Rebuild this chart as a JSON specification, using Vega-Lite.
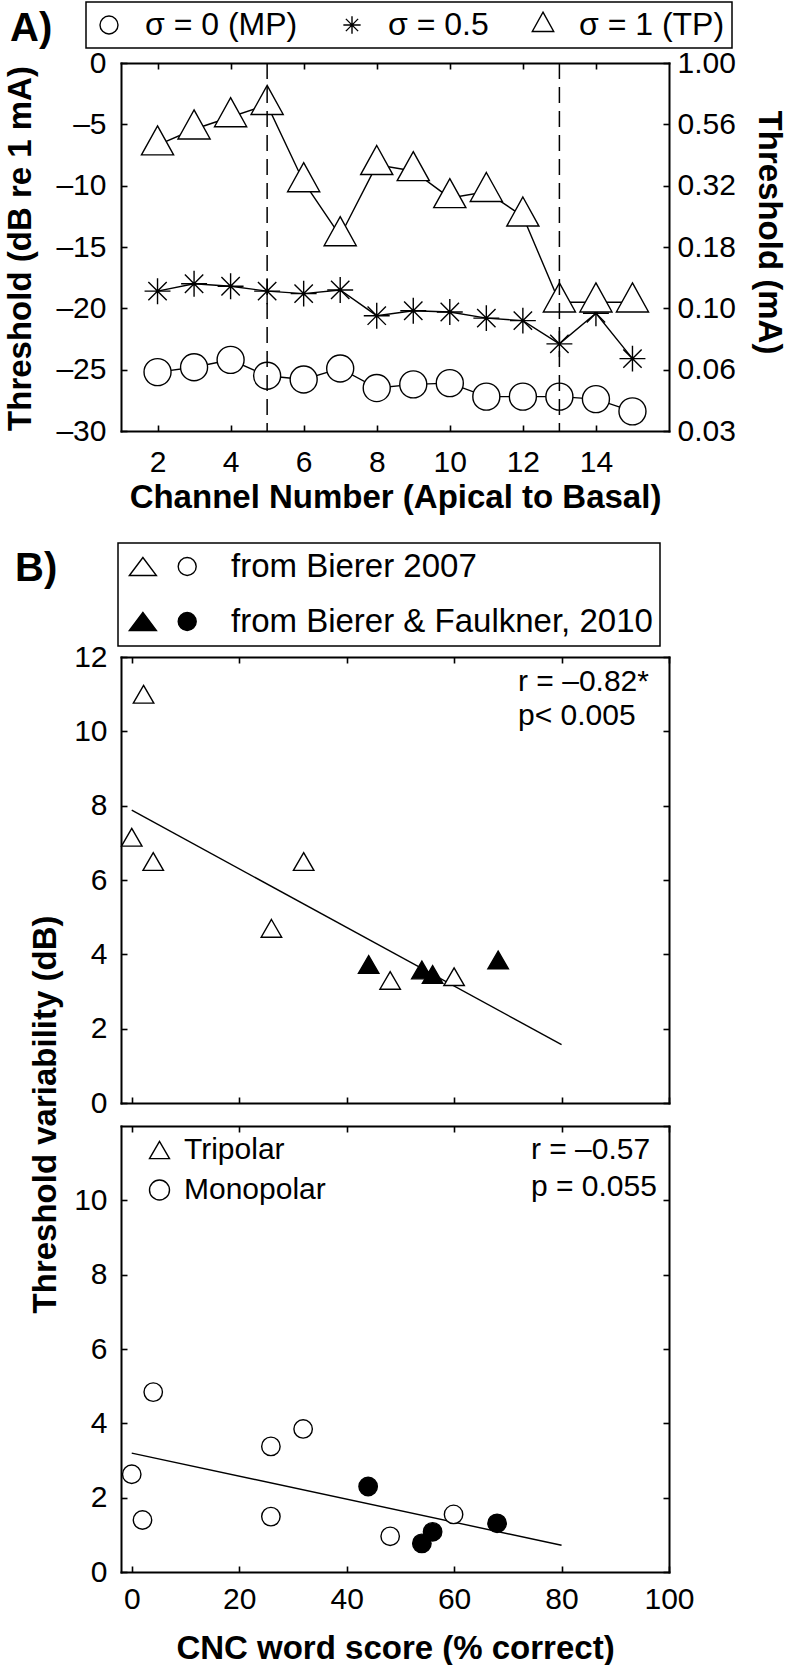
{
  "$schema": "https://vega.github.io/schema/vega-lite/v6.json",
  "autosize": {"type": "none"},
  "padding": {"left": 121, "top": 63, "right": 668, "bottom": 1602},
  "background": "white",
  "datasets": {
    "thresholds": [
      {"channel": 2, "sigma": "σ = 0 (MP)", "threshold": -25.2},
      {"channel": 3, "sigma": "σ = 0 (MP)", "threshold": -24.8},
      {"channel": 4, "sigma": "σ = 0 (MP)", "threshold": -24.2},
      {"channel": 5, "sigma": "σ = 0 (MP)", "threshold": -25.5},
      {"channel": 6, "sigma": "σ = 0 (MP)", "threshold": -25.8},
      {"channel": 7, "sigma": "σ = 0 (MP)", "threshold": -24.9},
      {"channel": 8, "sigma": "σ = 0 (MP)", "threshold": -26.5},
      {"channel": 9, "sigma": "σ = 0 (MP)", "threshold": -26.2},
      {"channel": 10, "sigma": "σ = 0 (MP)", "threshold": -26.1},
      {"channel": 11, "sigma": "σ = 0 (MP)", "threshold": -27.2},
      {"channel": 12, "sigma": "σ = 0 (MP)", "threshold": -27.2},
      {"channel": 13, "sigma": "σ = 0 (MP)", "threshold": -27.2},
      {"channel": 14, "sigma": "σ = 0 (MP)", "threshold": -27.4},
      {"channel": 15, "sigma": "σ = 0 (MP)", "threshold": -28.4},
      {"channel": 2, "sigma": "σ = 0.5", "threshold": -18.6},
      {"channel": 3, "sigma": "σ = 0.5", "threshold": -18.0},
      {"channel": 4, "sigma": "σ = 0.5", "threshold": -18.2},
      {"channel": 5, "sigma": "σ = 0.5", "threshold": -18.6},
      {"channel": 6, "sigma": "σ = 0.5", "threshold": -18.8},
      {"channel": 7, "sigma": "σ = 0.5", "threshold": -18.5},
      {"channel": 8, "sigma": "σ = 0.5", "threshold": -20.6},
      {"channel": 9, "sigma": "σ = 0.5", "threshold": -20.2},
      {"channel": 10, "sigma": "σ = 0.5", "threshold": -20.3},
      {"channel": 11, "sigma": "σ = 0.5", "threshold": -20.8},
      {"channel": 12, "sigma": "σ = 0.5", "threshold": -21.0},
      {"channel": 13, "sigma": "σ = 0.5", "threshold": -22.9},
      {"channel": 14, "sigma": "σ = 0.5", "threshold": -20.4},
      {"channel": 15, "sigma": "σ = 0.5", "threshold": -24.1},
      {"channel": 2, "sigma": "σ = 1 (TP)", "threshold": -6.7},
      {"channel": 3, "sigma": "σ = 1 (TP)", "threshold": -5.4},
      {"channel": 4, "sigma": "σ = 1 (TP)", "threshold": -4.4},
      {"channel": 5, "sigma": "σ = 1 (TP)", "threshold": -3.4},
      {"channel": 6, "sigma": "σ = 1 (TP)", "threshold": -9.7},
      {"channel": 7, "sigma": "σ = 1 (TP)", "threshold": -14.1},
      {"channel": 8, "sigma": "σ = 1 (TP)", "threshold": -8.3},
      {"channel": 9, "sigma": "σ = 1 (TP)", "threshold": -8.8},
      {"channel": 10, "sigma": "σ = 1 (TP)", "threshold": -11.0},
      {"channel": 11, "sigma": "σ = 1 (TP)", "threshold": -10.5},
      {"channel": 12, "sigma": "σ = 1 (TP)", "threshold": -12.5},
      {"channel": 13, "sigma": "σ = 1 (TP)", "threshold": -19.5},
      {"channel": 14, "sigma": "σ = 1 (TP)", "threshold": -19.5},
      {"channel": 15, "sigma": "σ = 1 (TP)", "threshold": -19.5}
    ],
    "tripolar": [
      {"score": 0.0, "variability": 7.07, "source": "from Bierer 2007", "electrode": "Tripolar"},
      {"score": 2.2, "variability": 10.92, "source": "from Bierer 2007", "electrode": "Tripolar"},
      {"score": 4.0, "variability": 6.42, "source": "from Bierer 2007", "electrode": "Tripolar"},
      {"score": 26.0, "variability": 4.62, "source": "from Bierer 2007", "electrode": "Tripolar"},
      {"score": 32.0, "variability": 6.42, "source": "from Bierer 2007", "electrode": "Tripolar"},
      {"score": 48.1, "variability": 3.22, "source": "from Bierer 2007", "electrode": "Tripolar"},
      {"score": 60.0, "variability": 3.32, "source": "from Bierer 2007", "electrode": "Tripolar"},
      {"score": 44.1, "variability": 3.65, "source": "from Bierer & Faulkner, 2010", "electrode": "Tripolar"},
      {"score": 54.0, "variability": 3.50, "source": "from Bierer & Faulkner, 2010", "electrode": "Tripolar"},
      {"score": 56.0, "variability": 3.38, "source": "from Bierer & Faulkner, 2010", "electrode": "Tripolar"},
      {"score": 68.2, "variability": 3.77, "source": "from Bierer & Faulkner, 2010", "electrode": "Tripolar"}
    ],
    "monopolar": [
      {"score": 0.0, "variability": 2.63, "source": "from Bierer 2007", "electrode": "Monopolar"},
      {"score": 2.0, "variability": 1.40, "source": "from Bierer 2007", "electrode": "Monopolar"},
      {"score": 4.0, "variability": 4.84, "source": "from Bierer 2007", "electrode": "Monopolar"},
      {"score": 25.9, "variability": 3.38, "source": "from Bierer 2007", "electrode": "Monopolar"},
      {"score": 25.9, "variability": 1.49, "source": "from Bierer 2007", "electrode": "Monopolar"},
      {"score": 31.9, "variability": 3.85, "source": "from Bierer 2007", "electrode": "Monopolar"},
      {"score": 48.1, "variability": 0.96, "source": "from Bierer 2007", "electrode": "Monopolar"},
      {"score": 59.9, "variability": 1.55, "source": "from Bierer 2007", "electrode": "Monopolar"},
      {"score": 44.0, "variability": 2.30, "source": "from Bierer & Faulkner, 2010", "electrode": "Monopolar"},
      {"score": 54.0, "variability": 0.77, "source": "from Bierer & Faulkner, 2010", "electrode": "Monopolar"},
      {"score": 56.0, "variability": 1.08, "source": "from Bierer & Faulkner, 2010", "electrode": "Monopolar"},
      {"score": 68.0, "variability": 1.31, "source": "from Bierer & Faulkner, 2010", "electrode": "Monopolar"}
    ],
    "fit_tripolar": [
      {"score": 0, "variability": 7.88},
      {"score": 80, "variability": 1.57}
    ],
    "fit_monopolar": [
      {"score": 0, "variability": 3.2},
      {"score": 80, "variability": 0.72}
    ]
  },
  "vconcat": [
    {
      "width": 548,
      "height": 368,
      "title": {"text": "A)", "orient": "top", "anchor": "start", "frame": "group", "offset": 0, "dx": -111, "dy": 48, "baseline": "top", "fontSize": 40, "fontWeight": "bold", "font": "Liberation Sans", "color": "black"},
      "layer": [
        {
          "data": {"name": "thresholds"},
          "mark": {"type": "line", "stroke": "black", "strokeWidth": 1.4},
          "encoding": {
            "x": {"field": "channel", "type": "quantitative", "scale": {"domain": [1, 16], "nice": false, "zero": false},
                  "axis": {"orient": "bottom", "values": [2, 4, 6, 8, 10, 12, 14], "labelPadding": 37, "labelBaseline": "middle", "title": "Channel Number (Apical to Basal)", "titleY": 66, "titleBaseline": "middle"}},
            "y": {"field": "threshold", "type": "quantitative", "scale": {"domain": [-30, 0], "nice": false, "zero": false},
                  "axis": {"orient": "left", "values": [-30, -25, -20, -15, -10, -5, 0], "labelPadding": 21, "labelExpr": "datum.value < 0 ? '–' + abs(datum.value) : '' + datum.value", "title": "Threshold (dB re 1 mA)", "titleAngle": 270, "titleX": -101, "titleY": 185, "titleAlign": "center", "titleBaseline": "middle"}},
            "detail": {"field": "sigma", "type": "nominal"}
          }
        },
        {
          "data": {"name": "thresholds"},
          "mark": {"type": "point", "filled": true, "fill": "white", "strokeWidth": 1.4, "opacity": 1, "size": 730},
          "encoding": {
            "x": {"field": "channel", "type": "quantitative",
                  "axis": {"orient": "top", "values": [2, 4, 6, 8, 10, 12, 14], "labels": false, "title": null}},
            "y": {"field": "threshold", "type": "quantitative",
                  "axis": {"orient": "right", "values": [-30, -25, -20, -15, -10, -5, 0], "labelPadding": 14, "labelExpr": "format(pow(10, datum.value / 20), '.2f')", "title": "Threshold (mA)", "titleAngle": 90, "titleX": 99, "titleY": 169, "titleAlign": "center", "titleBaseline": "middle"}},
            "stroke": {"field": "sigma", "type": "nominal",
                       "scale": {"domain": ["σ = 0 (MP)", "σ = 0.5", "σ = 1 (TP)"], "range": ["black", "black", "black"]},
                       "legend": {"orient": "none", "legendX": -35, "legendY": -61, "direction": "horizontal", "columns": 3, "title": null, "padding": 7, "strokeColor": "black", "symbolSize": 324, "symbolStrokeWidth": 1.4, "symbolFillColor": "white", "symbolOpacity": 1, "labelFontSize": 32, "labelOffset": 20, "columnPadding": 38, "labelLimit": 400}},
            "shape": {"field": "sigma", "type": "nominal",
                      "scale": {"domain": ["σ = 0 (MP)", "σ = 0.5", "σ = 1 (TP)"], "range": ["circle", "M0,-0.96L0,0.96M-0.96,0L0.96,0M-0.68,-0.68L0.68,0.68M-0.68,0.68L0.68,-0.68", "M0,-1.43L1.19,0.72L-1.19,0.72Z"]},
                      "legend": {"orient": "none", "legendX": -35, "legendY": -61, "direction": "horizontal", "columns": 3, "title": null, "padding": 7, "strokeColor": "black", "symbolSize": 324, "symbolStrokeWidth": 1.4, "symbolFillColor": "white", "symbolOpacity": 1, "labelFontSize": 32, "labelOffset": 20, "columnPadding": 38, "labelLimit": 400}}
          }
        },
        {
          "data": {"values": [{"channel": 5}, {"channel": 13}]},
          "mark": {"type": "rule", "stroke": "black", "strokeWidth": 1.5, "strokeDash": [16, 8]},
          "encoding": {"x": {"field": "channel", "type": "quantitative", "axis": null}}
        }
      ],
      "resolve": {"axis": {"x": "independent", "y": "independent"}}
    },
    {
      "width": 548,
      "height": 180,
      "data": {"values": []},
      "mark": "point"
    },
    {
      "width": 548,
      "height": 446,
      "title": {"text": "B)", "orient": "top", "anchor": "start", "frame": "group", "offset": 0, "dx": -106, "dy": 47, "baseline": "top", "fontSize": 40, "fontWeight": "bold", "font": "Liberation Sans", "color": "black"},
      "layer": [
        {
          "data": {"name": "fit_tripolar"},
          "mark": {"type": "line", "stroke": "black", "strokeWidth": 1.4},
          "encoding": {
            "x": {"field": "score", "type": "quantitative", "scale": {"domain": [-2, 100], "nice": false, "zero": false},
                  "axis": {"orient": "bottom", "values": [0, 20, 40, 60, 80, 100], "labels": false, "title": null}},
            "y": {"field": "variability", "type": "quantitative", "scale": {"domain": [0, 12], "nice": false},
                  "axis": {"orient": "left", "values": [0, 2, 4, 6, 8, 10, 12], "labelPadding": 20, "title": null}}
          }
        },
        {
          "data": {"name": "tripolar"},
          "mark": {"type": "point", "filled": true, "shape": "M0,-1.15L1.0,0.58L-1.0,0.58Z", "size": 420, "stroke": "black", "strokeWidth": 1.4, "opacity": 1},
          "encoding": {
            "x": {"field": "score", "type": "quantitative",
                  "axis": {"orient": "top", "values": [0, 20, 40, 60, 80, 100], "labels": false, "title": null}},
            "y": {"field": "variability", "type": "quantitative",
                  "axis": {"orient": "right", "values": [0, 2, 4, 6, 8, 10, 12], "labels": false, "title": null}},
            "fill": {"field": "source", "type": "nominal",
                     "scale": {"domain": ["from Bierer 2007", "from Bierer & Faulkner, 2010"], "range": ["white", "black"]},
                     "legend": {"orient": "none", "legendX": -3, "legendY": -114, "direction": "vertical", "title": null, "padding": 7, "strokeColor": "black", "symbolType": "M-1.21,0.9L0.14,-0.9L1.49,0.9Z M3.67,0A0.9,0.9 0 1 0 5.47,0A0.9,0.9 0 1 0 3.67,0Z", "symbolSize": 400, "symbolStrokeWidth": 1.4, "symbolStrokeColor": "black", "symbolOpacity": 1, "labelFontSize": 33, "labelOffset": 73, "rowPadding": 21, "labelLimit": 800}}
          }
        },
        {
          "data": {"values": [{"stat": "r = –0.82*"}]},
          "mark": {"type": "text", "align": "left", "baseline": "middle", "fontSize": 30, "font": "Liberation Sans", "color": "black"},
          "encoding": {
            "x": {"datum": 71.9, "type": "quantitative", "axis": null},
            "y": {"datum": 11.34, "type": "quantitative", "axis": null},
            "text": {"field": "stat"}
          }
        },
        {
          "data": {"values": [{"stat": "p< 0.005"}]},
          "mark": {"type": "text", "align": "left", "baseline": "middle", "fontSize": 30, "font": "Liberation Sans", "color": "black"},
          "encoding": {
            "x": {"datum": 71.9, "type": "quantitative", "axis": null},
            "y": {"datum": 10.4, "type": "quantitative", "axis": null},
            "text": {"field": "stat"}
          }
        }
      ],
      "resolve": {"axis": {"x": "independent", "y": "independent"}}
    },
    {
      "width": 548,
      "height": 446,
      "layer": [
        {
          "data": {"name": "fit_monopolar"},
          "mark": {"type": "line", "stroke": "black", "strokeWidth": 1.4},
          "encoding": {
            "x": {"field": "score", "type": "quantitative", "scale": {"domain": [-2, 100], "nice": false, "zero": false},
                  "axis": {"orient": "bottom", "values": [0, 20, 40, 60, 80, 100], "labelPadding": 33, "labelBaseline": "middle", "title": "CNC word score (% correct)", "titleY": 76, "titleBaseline": "middle"}},
            "y": {"field": "variability", "type": "quantitative", "scale": {"domain": [0, 12], "nice": false},
                  "axis": {"orient": "left", "values": [0, 2, 4, 6, 8, 10], "labelPadding": 20, "title": "Threshold variability (dB)", "titleAngle": 270, "titleX": -75.5, "titleY": -12, "titleAlign": "center", "titleBaseline": "middle"}}
          }
        },
        {
          "data": {"name": "monopolar"},
          "mark": {"type": "point", "filled": true, "size": 340, "stroke": "black", "strokeWidth": 1.4, "opacity": 1},
          "encoding": {
            "x": {"field": "score", "type": "quantitative",
                  "axis": {"orient": "top", "values": [0, 20, 40, 60, 80, 100], "labels": false, "title": null}},
            "y": {"field": "variability", "type": "quantitative",
                  "axis": {"orient": "right", "values": [0, 2, 4, 6, 8, 10, 12], "labels": false, "title": null}},
            "fill": {"field": "source", "type": "nominal",
                     "scale": {"domain": ["from Bierer 2007", "from Bierer & Faulkner, 2010"], "range": ["white", "black"]}, "legend": null},
            "shape": {"field": "electrode", "type": "nominal",
                      "scale": {"domain": ["Tripolar", "Monopolar"], "range": ["triangle-up", "circle"]},
                      "legend": {"orient": "none", "legendX": 23.5, "legendY": 9, "direction": "vertical", "title": null, "padding": 0, "symbolSize": 400, "symbolStrokeWidth": 1.4, "symbolStrokeColor": "black", "symbolFillColor": "white", "symbolOpacity": 1, "labelFontSize": 30, "labelOffset": 9.5, "rowPadding": 10, "labelLimit": 400}}
          }
        },
        {
          "data": {"values": [{"stat": "r = –0.57"}]},
          "mark": {"type": "text", "align": "left", "baseline": "middle", "fontSize": 30, "font": "Liberation Sans", "color": "black"},
          "encoding": {
            "x": {"datum": 74.3, "type": "quantitative", "axis": null},
            "y": {"datum": 11.35, "type": "quantitative", "axis": null},
            "text": {"field": "stat"}
          }
        },
        {
          "data": {"values": [{"stat": "p = 0.055"}]},
          "mark": {"type": "text", "align": "left", "baseline": "middle", "fontSize": 30, "font": "Liberation Sans", "color": "black"},
          "encoding": {
            "x": {"datum": 74.3, "type": "quantitative", "axis": null},
            "y": {"datum": 10.36, "type": "quantitative", "axis": null},
            "text": {"field": "stat"}
          }
        }
      ],
      "resolve": {"axis": {"x": "independent", "y": "independent"}}
    }
  ],
  "spacing": 23,
  "bounds": "flush",
  "resolve": {
    "scale": {"x": "independent", "y": "independent", "shape": "independent", "fill": "independent", "stroke": "independent"},
    "legend": {"shape": "independent", "fill": "independent", "stroke": "independent"}
  },
  "config": {
    "view": {"stroke": null},
    "font": "Liberation Sans",
    "axis": {"domainColor": "black", "domainWidth": 2, "domainCap": "square", "tickColor": "black", "tickWidth": 1.6, "tickSize": -6, "labelFont": "Liberation Sans", "labelFontSize": 30, "labelColor": "black", "labelFlush": false, "labelOverlap": false, "titleFont": "Liberation Sans", "titleFontSize": 33, "titleFontWeight": "bold", "titleColor": "black", "grid": false},
    "legend": {"labelFont": "Liberation Sans", "labelColor": "black", "strokeWidth": 1.5}
  }
}
